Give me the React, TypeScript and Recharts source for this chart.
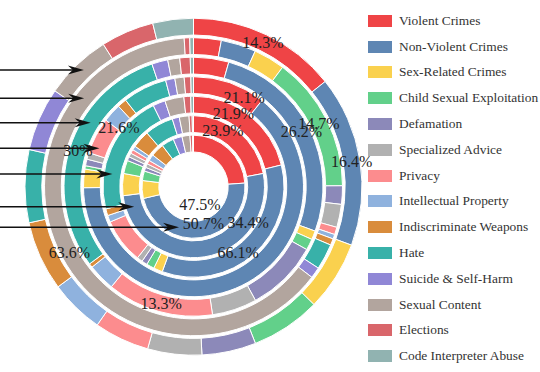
import { PieChart, Pie, Cell } from "recharts";

const categories = [
  "Violent Crimes",
  "Non-Violent Crimes",
  "Sex-Related Crimes",
  "Child Sexual Exploitation",
  "Defamation",
  "Specialized Advice",
  "Privacy",
  "Intellectual Property",
  "Indiscriminate Weapons",
  "Hate",
  "Suicide & Self-Harm",
  "Sexual Content",
  "Elections",
  "Code Interpreter Abuse",
];

const colors = [
  "#ef4446",
  "#5e86b3",
  "#fad14e",
  "#62d08a",
  "#8c89b9",
  "#b1b1b1",
  "#fc8c8e",
  "#8fb2de",
  "#d98c3c",
  "#38b1a9",
  "#9087d6",
  "#b2a59e",
  "#d9666b",
  "#91b3b1",
];

// percentages per ring, outermost first, in category order
const ring1 = [14.3, 16.4, 6.7, 6.7, 5.2, 5.2, 5.3, 5.2, 6.7, 7.0, 6.1, 6.4, 5.1, 3.9];
const ring2 = [3.0, 3.8, 3.4, 14.7, 2.0, 2.5, 0.8, 0.5, 0.7, 2.8, 1.2, 63.6, 0.6, 0.4];
const ring3 = [4.4, 26.2, 1.1, 1.4, 9.0, 5.6, 13.3, 3.4, 0.5, 30, 2.0, 1.5, 1.3, 0.4];
const ring4 = [11.0, 66.1, 2.8, 0.5, 1.0, 1.0, 5.5, 2.8, 1.4, 6.7, 1.4, 1.4, 1.0, 0.4];
const ring5 = [21.1, 34.4, 1.6, 1.4, 1.0, 1.0, 8.0, 1.2, 1.2, 21.6, 2.2, 3.4, 1.2, 0.5];
const ring6 = [21.9, 50.7, 5.0, 3.0, 0.9, 0.9, 0.9, 0.9, 4.0, 6.5, 1.6, 2.2, 0.7, 0.3];
const ring7 = [23.9, 47.5, 5.6, 3.0, 1.2, 1.2, 1.2, 2.0, 4.2, 3.9, 2.8, 2.5, 0.8, 0.3];

const rings = [ring1, ring2, ring3, ring4, ring5, ring6, ring7];

// y of the pointer arrows on the left, one per ring
const arrowRows = [70, 98.3, 122.7, 148.3, 174, 206.7, 227.3];

const W = 540;
const H = 372;
const CX = 193.5;
const CY = 186.7;
const OUTER = 168.5;
const PITCH = 19.5;
const THICK = 16.8;
const LABEL_MIN = 13;
const RAD = Math.PI / 180;
const FONT = "'Liberation Serif', 'Times New Roman', serif";

const outerR = (i: number) => OUTER - PITCH * i;
const innerR = (i: number) => outerR(i) - THICK;

const makeLabel = (ring: number) => (props: any) => {
  const { cx, cy, midAngle, innerRadius, outerRadius, value } = props;
  if (value < LABEL_MIN) return null;
  const r = (innerRadius + outerRadius) / 2;
  const x = cx + r * Math.cos(-midAngle * RAD);
  // the inner rings carry their labels raised in the original
  const y = cy + r * Math.sin(-midAngle * RAD) + (ring >= 3 ? -25 : 0);
  return (
    <text
      x={x}
      y={y}
      textAnchor="middle"
      dominantBaseline="central"
      fill="#222"
      fontSize={16}
      fontFamily={FONT}
    >
      {`${value}%`}
    </text>
  );
};

function Arrows() {
  return (
    <svg
      width={W}
      height={H}
      style={{ position: "absolute", left: 0, top: 0, pointerEvents: "none" }}
    >
      {arrowRows.map((y, i) => {
        const rm = (outerR(i) + innerR(i)) / 2;
        const tx = CX - Math.sqrt(Math.max(rm * rm - (y - CY) * (y - CY), 0));
        return (
          <g key={i}>
            <line x1={0} y1={y} x2={tx - 10} y2={y} stroke="#111" strokeWidth={1.6} />
            <path
              d={`M${tx},${y} L${tx - 16},${y - 4.5} L${tx - 11},${y} L${tx - 16},${y + 4.5} Z`}
              fill="#111"
            />
          </g>
        );
      })}
    </svg>
  );
}

function LegendBox() {
  return (
    <div style={{ position: "absolute", left: 368, top: 8, fontFamily: FONT }}>
      {categories.map((c, i) => (
        <div
          key={c}
          style={{ display: "flex", alignItems: "center", height: 25.8 }}
        >
          <span
            style={{
              display: "inline-block",
              width: 24,
              height: 12,
              background: colors[i],
              marginRight: 7,
            }}
          />
          <span style={{ fontSize: 13.4, color: "#333", whiteSpace: "nowrap" }}>{c}</span>
        </div>
      ))}
    </div>
  );
}

export default function App() {
  const ringData = rings.map((r) => r.map((v, i) => ({ name: categories[i], value: v })));
  return (
    <div
      style={{
        position: "absolute",
        left: 0,
        top: 0,
        width: W,
        height: H,
        background: "#fff",
        overflow: "hidden",
      }}
    >
      <PieChart width={W} height={H} margin={{ top: 0, right: 0, bottom: 0, left: 0 }}>
        {ringData.map((d, ri) => (
          <Pie
            key={`ring-${ri}`}
            data={d}
            dataKey="value"
            cx={CX}
            cy={CY}
            innerRadius={innerR(ri)}
            outerRadius={outerR(ri)}
            startAngle={90}
            endAngle={-270}
            stroke="#fff"
            strokeWidth={1}
            label={false}
            labelLine={false}
            isAnimationActive={false}
          >
            {d.map((_, i) => (
              <Cell key={`c-${ri}-${i}`} fill={colors[i]} />
            ))}
          </Pie>
        ))}
        {ringData.map((d, ri) => (
          <Pie
            key={`label-${ri}`}
            data={d}
            dataKey="value"
            cx={CX}
            cy={CY}
            innerRadius={innerR(ri)}
            outerRadius={outerR(ri)}
            startAngle={90}
            endAngle={-270}
            fill="none"
            stroke="none"
            label={makeLabel(ri)}
            labelLine={false}
            legendType="none"
            isAnimationActive={false}
          />
        ))}
      </PieChart>
      <Arrows />
      <LegendBox />
    </div>
  );
}
